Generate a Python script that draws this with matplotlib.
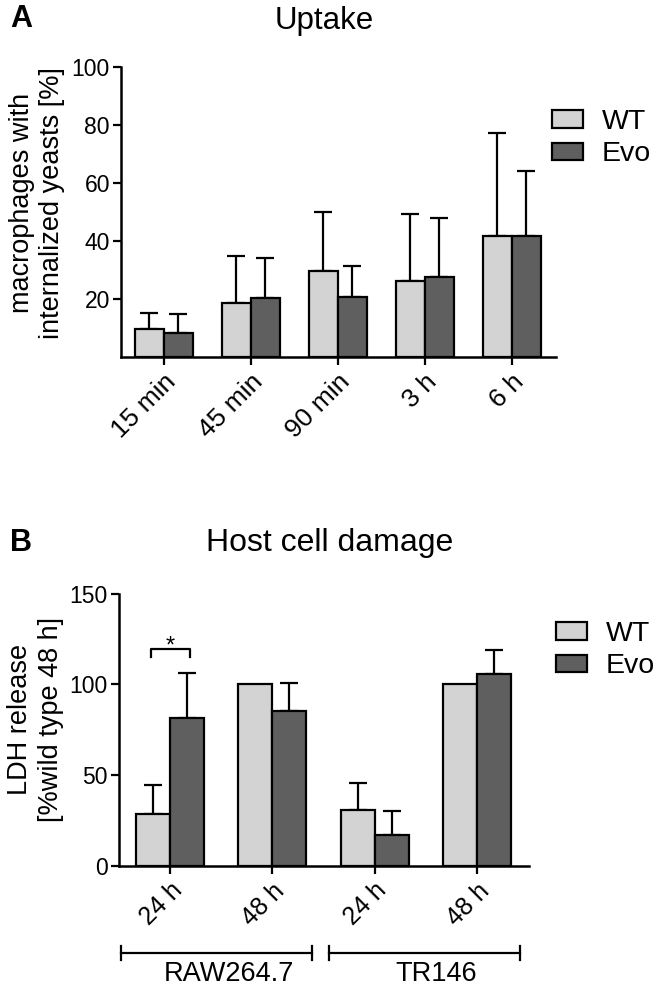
import matplotlib
matplotlib.use("Agg")
import matplotlib.pyplot as plt
import numpy as np
from matplotlib.patches import Patch
import matplotlib.transforms as mtrans

plt.rcParams['font.family'] = ['Liberation Sans', 'DejaVu Sans']

# ---- data ----
uptake_times = ["15 min", "45 min", "90 min", "3 h", "6 h"]
uptake_wt = [9.8, 18.7, 29.5, 26.2, 41.7]
uptake_wt_err = [5.5, 16.0, 20.5, 23.0, 35.5]
uptake_evo = [8.3, 20.3, 20.7, 27.6, 41.6]
uptake_evo_err = [6.4, 14.0, 10.8, 20.4, 22.5]

ldh_times = ["24 h", "48 h", "24 h", "48 h"]
ldh_wt = [28.5, 100.0, 30.8, 100.0]
ldh_wt_err = [16.1, 0.0, 15.1, 0.0]
ldh_evo = [81.3, 85.4, 17.1, 105.6]
ldh_evo_err = [24.8, 15.2, 13.2, 13.4]
cell_lines = ["RAW264.7", "TR146"]

series_names = ["WT", "Evo"]
c_wt = "#d3d3d3"
c_evo = "#5f5f5f"

W, H = 656, 992
fig = plt.figure(figsize=(W / 100, H / 100), dpi=100)

def fx(px):
    return px / W

def fy(py):
    return 1 - py / H

def draw_bars(ax, wt, wt_err, evo, evo_err):
    x = np.arange(len(wt))
    bw = 1 / 3
    for xs, vals, errs, col in [(x - bw / 2, wt, wt_err, c_wt), (x + bw / 2, evo, evo_err, c_evo)]:
        ax.bar(xs, vals, width=bw, color=col, edgecolor="black", linewidth=1.6, zorder=2)
        errs = np.array(errs)
        mask = errs > 0
        ax.errorbar(xs[mask], np.array(vals)[mask], yerr=[np.zeros(mask.sum()), errs[mask]],
                    fmt="none", ecolor="black", elinewidth=1.6, capsize=6.5, capthick=1.6, zorder=1)
    return x

def style(ax, xsize):
    for s in ["top", "right"]:
        ax.spines[s].set_visible(False)
    for s in ["left", "bottom"]:
        ax.spines[s].set_linewidth(1.8)
    ax.tick_params(axis="both", direction="out", length=6, width=1.6)
    ax.tick_params(axis="y", pad=2, labelsize=16.5)
    ax.tick_params(axis="x", pad=3, labelsize=xsize)

# ---- Panel A ----
axA = fig.add_axes([fx(121), fy(357), fx(556) - fx(121), fy(67) - fy(357)])
xA = draw_bars(axA, uptake_wt, uptake_wt_err, uptake_evo, uptake_evo_err)
axA.set_xlim(-0.494, len(uptake_times) - 1 + 0.506)
axA.set_ylim(0, 100)
axA.set_yticks([20, 40, 60, 80, 100])
axA.set_xticks(xA)
axA.set_xticklabels(uptake_times, rotation=45, ha="right", rotation_mode="anchor", va="top")
style(axA, 19)
fig.text(fx(37), fy(203), "macrophages with\ninternalized yeasts [%]", fontsize=19.5,
         rotation=90, ha="center", va="center", multialignment="center", linespacing=1.2)
fig.text(fx(324), fy(21), "Uptake", fontsize=22.5, ha="center", va="center")
fig.text(fx(10), fy(19), "A", fontsize=22, fontweight="bold", ha="left", va="center")

handles = [Patch(facecolor=c_wt, edgecolor="black", linewidth=1.6),
           Patch(facecolor=c_evo, edgecolor="black", linewidth=1.6)]
leg_kw = dict(loc="upper left", frameon=False, fontsize=20.5, handlelength=1.1, handleheight=0.56,
              handletextpad=0.65, labelspacing=0.22, borderpad=0, borderaxespad=0)
fig.legend(handles, series_names, bbox_to_anchor=(fx(552), fy(109)), **leg_kw)

# ---- Panel B ----
axB = fig.add_axes([fx(119), fy(866), fx(529) - fx(119), fy(593.7) - fy(866)])
xB = draw_bars(axB, ldh_wt, ldh_wt_err, ldh_evo, ldh_evo_err)
axB.set_xlim(-0.5, len(ldh_times) - 1 + 0.51)
axB.set_ylim(0, 150)
axB.set_yticks([0, 50, 100, 150])
axB.set_xticks(xB)
axB.set_xticklabels(ldh_times, rotation=45, ha="right", rotation_mode="anchor", va="top")
style(axB, 18)
fig.text(fx(36), fy(719), "LDH release\n[%wild type 48 h]", fontsize=19.5,
         rotation=90, ha="center", va="center", multialignment="center", linespacing=1.25)
fig.text(fx(330), fy(543), "Host cell damage", fontsize=23, ha="center", va="center")
fig.text(fx(10), fy(543), "B", fontsize=22, fontweight="bold", ha="left", va="center")

fig.legend(handles, series_names, bbox_to_anchor=(fx(556), fy(621)), **leg_kw)

# significance bracket
axB.plot([-0.19, -0.19, 0.19, 0.19], [115, 119.6, 119.6, 115], color="black", lw=1.6, clip_on=False)
axB.text(0, 121, "*", ha="center", va="center", fontsize=17)

# cell line group brackets (x in data coords, y in figure coords)
trans = mtrans.blended_transform_factory(axB.transData, fig.transFigure)
group_spans = [(-0.48, 1.39), (1.55, 3.42)]
yb = fy(953)
cap = 7 / H
for (a, b), name in zip(group_spans, cell_lines):
    fig.add_artist(plt.Line2D([a, b], [yb, yb], transform=trans, color="black", lw=1.6))
    for e in (a, b):
        fig.add_artist(plt.Line2D([e, e], [yb - cap, yb + cap], transform=trans, color="black", lw=1.6))
    fig.text((a + b) / 2 + 0.12, fy(974), name, transform=trans, ha="center", va="center", fontsize=19.5)

fig.savefig("out.png", dpi=100)
